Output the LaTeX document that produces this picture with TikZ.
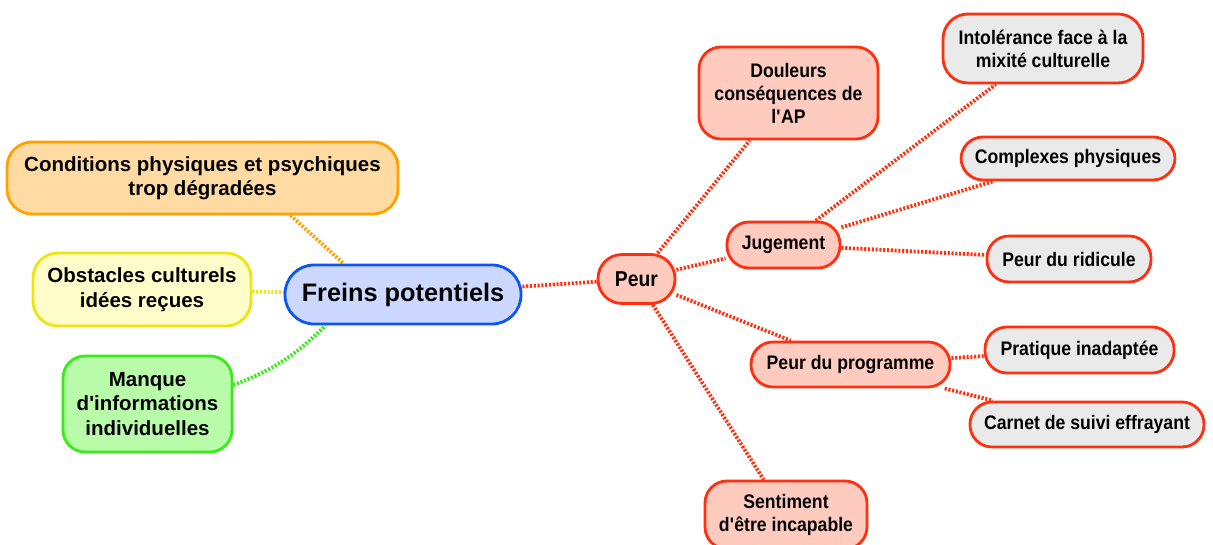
\documentclass[tikz,border=0pt]{standalone}
\usepackage{fontspec}
\setmainfont{Liberation Sans}
\newfontfamily\nfont[FakeStretch=0.9]{Liberation Sans}
\usetikzlibrary{calc}
\pgfdeclarelayer{bg}
\pgfsetlayers{bg,main}
\definecolor{redb}{HTML}{FF2F0F}
\definecolor{pinkf}{HTML}{FFCBBF}
\definecolor{greyf}{HTML}{EAEAEA}
\definecolor{orangeb}{HTML}{FFA200}
\definecolor{orangef}{HTML}{FFDBA3}
\definecolor{yellowb}{HTML}{EEE411}
\definecolor{yellowf}{HTML}{FFFDC9}
\definecolor{greenb}{HTML}{3AEB1A}
\definecolor{greenf}{HTML}{B8FCA9}
\definecolor{blueb}{HTML}{0F55F5}
\definecolor{bluef}{HTML}{CCD8FF}
\begin{document}
\begin{tikzpicture}[x=1pt,y=-1pt,
  box/.style={draw, line width=2.8pt, rounded corners=22pt, inner sep=0pt, align=center,
    font=\nfont\bfseries\fontsize{19.6}{23}\selectfont},
  redbox/.style={box, draw=redb, fill=pinkf},
  greybox/.style={box, draw=redb, fill=greyf},
  leftbox/.style={box, font=\bfseries\fontsize{20.5}{24.5}\selectfont},
  link/.style={line width=3.8pt, dash pattern=on 2.1pt off 1.7pt},
]
\useasboundingbox (0,0) rectangle (1213,545);

% left side
\node[leftbox, draw=blueb, fill=bluef, rounded corners=29pt, minimum width=236, minimum height=59,
  font=\bfseries\fontsize{25.3}{30}\selectfont] (fr) at (403,294.5) {Freins potentiels};
\node[leftbox, draw=orangeb, fill=orangef, rounded corners=25pt, minimum width=391, minimum height=72] (cond) at (202.5,178) {Conditions physiques et psychiques\\trop dégradées};
\node[leftbox, draw=yellowb, fill=yellowf, rounded corners=25pt, minimum width=218, minimum height=73] (obs) at (142,289.5) {Obstacles culturels\\idées reçues};
\node[leftbox, draw=greenb, fill=greenf, rounded corners=22pt, minimum width=169, minimum height=96] (mq) at (147.5,404) {Manque\\d\textquotesingle informations\\individuelles};

% right side
\node[redbox, rounded corners=24pt, minimum width=77, minimum height=49,
  font=\nfont\bfseries\fontsize{21.5}{23}\selectfont] (peur) at (636.5,279) {Peur};
\node[redbox, minimum width=179, minimum height=92] (doul) at (788.5,93) {Douleurs\\conséquences de\\l\textquotesingle AP};
\node[redbox, minimum width=113, minimum height=46] (jug) at (783.5,245) {Jugement};
\node[redbox, minimum width=199, minimum height=45] (prog) at (850.5,364.5) {Peur du programme};
\node[redbox, minimum width=162, minimum height=68] (sent) at (786,515) {Sentiment\\d\textquotesingle être incapable};

\node[greybox, rounded corners=25pt, minimum width=200, minimum height=69] (into) at (1043,48.5) {Intolérance face à la\\mixité culturelle};
\node[greybox, minimum width=214, minimum height=43] (comp) at (1068,158.5) {Complexes physiques};
\node[greybox, minimum width=164, minimum height=46] (rid) at (1069,259) {Peur du ridicule};
\node[greybox, minimum width=189, minimum height=46] (prat) at (1079.5,350) {Pratique inadaptée};
\node[greybox, minimum width=234, minimum height=45] (carn) at (1087,424.5) {Carnet de suivi effrayant};

\coordinate (condb) at ($(cond.south west)+(285,0)$);
\coordinate (frt) at ($(fr.north west)+(60,0)$);
\coordinate (mqa) at ($(mq.east)+(0,-19)$);
\coordinate (frb) at ($(fr.south west)+(42,0)$);

\begin{pgfonlayer}{bg}
  \draw[link, draw=orangeb] (condb) -- (frt);
  \draw[link, draw=yellowb] (obs) -- (fr);
  \draw[link, draw=greenb] (mqa) to[bend right=12] (frb);
  \draw[link, draw=redb] (fr) -- (peur);
  \draw[link, draw=redb] (peur) -- (doul);
  \draw[link, draw=redb] (peur) -- (jug);
  \draw[link, draw=redb] (peur) -- (prog);
  \draw[link, draw=redb] (peur) -- (sent);
  \draw[link, draw=redb] (jug) -- (into);
  \draw[link, draw=redb] (jug) -- (comp);
  \draw[link, draw=redb] (jug) -- (rid);
  \draw[link, draw=redb] (prog) -- (prat);
  \draw[link, draw=redb] (prog) -- (carn);
\end{pgfonlayer}
\end{tikzpicture}
\end{document}
